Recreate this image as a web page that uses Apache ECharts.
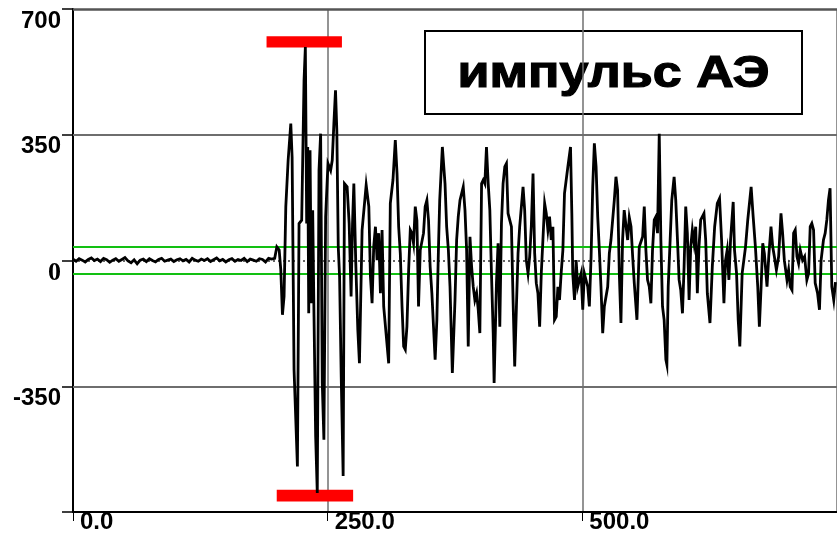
<!DOCTYPE html>
<html>
<head>
<meta charset="utf-8">
<script src="https://cdn.jsdelivr.net/npm/echarts@6/dist/echarts.min.js"></script>
<style>
html,body{margin:0;padding:0;background:#fff;}
#c{width:837px;height:536px;}
</style>
</head>
<body>
<div id="c"></div>
<script>
// ---- data ----
const yTickValues = [-700, -350, 0, 350, 700];
const xTickValues = [0, 250, 500];
const gridLevels = [350, -350];
const thresholdLevels = [38, -37];
const titleText = 'импульс АЭ';

// pre-trigger noise
const baselineX = [0,3,6,9,12,15,18,21,24,27,30,33,36,39,42,45,48,51,54,57,60,63,66,69,72,75,78,81,84,87,90,93,96,99,102,105,108,111,114,117,120,123,126,129,132,135,138,141,144,147,150,153,156,159,162,165,168,171,174,177,180,183,186,189,192,195,198];
const baselineY = [4,-2,5,1,-4,3,7,0,4,-3,6,2,-5,1,5,-2,3,8,-1,-6,2,-9,1,4,-3,5,0,-4,3,6,-2,1,4,-3,2,5,-1,3,-4,6,1,-2,4,0,5,-3,2,7,-1,3,-4,2,5,-2,3,0,6,-3,4,1,-2,5,3,-4,6,4,6];

// burst (largest oscillations)
const burstX = [200.1,202.4,204,205.6,207.2,208.9,211.2,213.8,215.1,217,220.3,221.9,224.5,226.8,228.1,229.4,230.4,231.4,232.7,234,235.3,236.6,238.2,239.8,241.5,243.1,244.7,246.3,248,250.3,252.9,254.5,256.1,257.7,259,260.4,261.7,263.3,265.2,266.5,269.1,271.1,273,274.4,275.7,277.6,279.6,281.2,283.8,287.8,290.4,292,293.6,295.2,296.9,298.5,300.1,301.8,303.4,305,307.3,309.9,311.5,314.1,316.4,318.1,319.7,321.3,323,324.6,326.2,327.8,329.5,331.1,332.7,334.3,336,337.6,339.2,340.9,344.1,345.7,347.4,349,350.6,352.3,353.9,355.5,357.2,358.8,360,362.6];
const burstY = [38,29,-26,-151,-100,150,279,381,288,-304,-573,103,112,501,594,103,316,-147,307,-119,140,-156,-489,-647,251,353,-341,-499,122,270,251,279,381,474,362,38,-45,-323,-600,214,205,103,-100,103,214,-8,-193,-286,85,210,150,-45,-119,38,94,1,76,-91,85,-128,-202,-286,159,224,335,242,94,20,-128,-239,-248,-184,-26,85,76,48,150,112,-128,29,76,150,168,112,-17,-91,-184,-276,-165,38,168,316];

// tail, part A
const tailAX = [365.2,366.8,368.5,370.1,372.4,375,376.6,378.2,379.9,383.1,384.8,386.4,388,389.7,391.3,392.9,394.5,396.2,397.8,399.4,401.1,402.7,404.3,405.9,407.6,409.2,410.8,412.5,413.4,415.7,417.3,419,420.6,422.2,423.9,425.5,427.1,430.4,432,433.6,435.3,436.9,438.5,441.8,443.4,445,446.7,448.3,449.9,451.6,453.2,454.8,456.4,458.1,459.7,461.3,463,464.6,466.2,467.8,469.5,471.1,472.7,474.4,476,477.6,479.2,480.9,482.5,485.8,488.4,489.7,490.6,492.3,493.9,495.5,498.8,500.4,502,505.3,506.9,508.6,510.2,511.8,513.5,515.1,516.7,518.3,520,521.6,523.2,524.9,526.5,528.1,531.4,533,534.6,536.3,537.9,539.5,541.1,542.8];
const tailAY = [214,94,29,-73,-313,-110,57,122,168,205,140,29,-239,66,-17,-73,-110,-91,-137,-202,214,224,214,316,214,140,-36,-202,-341,-63,48,-184,103,214,261,270,131,94,-110,-295,-128,20,94,205,140,1,-36,11,94,242,20,-63,-91,-184,-36,57,159,131,85,122,57,94,-165,-156,-73,-110,-36,29,187,261,316,131,-36,-110,1,-73,-36,-137,-36,-73,-128,11,205,326,261,122,29,-73,-202,-128,-128,-73,20,57,168,233,196,-36,-174,57,140,145];

// tail, part B
const tailBX = [544.5,546.1,547.8,549.4,551,553.6,555.9,559.2,560.8,562.4,564,565.7,567.3,568.9,570.6,572.2,573.8,575.5,577.1,578.7,580.3,582,583,584.3,586.2,587.8,590.1,591.7,593.4,595,596.6,598.3,599.9,601.5,603.1,604.8,606.4,608,609.7,611.3,612.9,614.5,616.2,619.4,621.1,622.7,625.3,627.6,629.9,632.5,634.7,636.7,639,640.6,642.2,643.9,645.5,648.1,649.4,651.4,653,654.6,656.9,660.2,662.4,665.7,667.7,669.9,672.2,673.8,675.5,677.1,678.7,681.3,683,685.2,686.9,688.5,690.5,692.7,695,696.6,698.3,700.9,702.5,704.1,705.8,707.4,709,710.7,712.3,713.9,716.2,718.2,720.4,722.1,723.7,725.3,727,728.6,730.9,732.8,734.4,736.7,738.4,740,741.6,743.2,744.9,746.8,748.5];
const tailBY = [57,120,94,11,-63,-165,38,66,150,29,-54,-73,-119,29,113,122,76,353,57,-128,-165,-276,-290,-73,57,168,233,168,57,-54,-82,-147,-17,150,76,-110,38,85,48,94,-91,38,113,131,57,-91,-174,-17,94,159,173,57,-119,1,29,-54,57,163,29,-36,-165,-239,-36,38,113,205,122,38,-73,-184,-73,48,20,-73,11,94,38,11,-26,11,131,76,1,-54,-26,-73,-82,76,85,11,-8,29,1,11,-54,-36,94,103,85,-63,-91,-137,1,57,76,113,168,201,-73,-110,-60];

// red markers of max / min amplitude
const maxBarX = [190, 264];
const maxBarY = [593, 624];
const minBarX = [200, 275];
const minBarY = [-671, -638];

// ---- build ----
function zip(xs, ys) {
  const n = Math.min(xs.length, ys.length);
  const out = [];
  for (let i = 0; i < n; i++) out.push([xs[i], ys[i]]);
  return out;
}
const signal = [].concat(
  zip(baselineX, baselineY),
  zip(burstX, burstY),
  zip(tailAX, tailAY),
  zip(tailBX, tailBY)
);

const labelFont = {
  color: '#000',
  fontFamily: '"Liberation Sans", Arial, sans-serif',
  fontWeight: 'bold',
  fontSize: 24
};

// measure title width to stretch it like the reference
const titleFont = 'bold 45px "Liberation Sans"';
const cv = document.createElement('canvas').getContext('2d');
cv.font = titleFont;
const titleW = cv.measureText(titleText).width || 280;
const titleScale = 312 / titleW;

const chart = echarts.init(document.getElementById('c'), null, {renderer: 'canvas'});

const option = {
  animation: false,
  backgroundColor: '#fff',
  grid: {left: 73, right: -3, top: 9, bottom: 24, containLabel: false},
  xAxis: {
    type: 'value',
    min: 0,
    max: 750,
    interval: 250,
    axisLine: {show: true, onZero: false, lineStyle: {color: '#000', width: 2}},
    axisTick: {show: true, length: 9, lineStyle: {color: '#000', width: 1}},
    axisLabel: Object.assign({}, labelFont, {
      show: true,
      showMaxLabel: false,
      align: 'left',
      padding: [0, 0, 0, 7],
      margin: -2,
      formatter: function (v) { return xTickValues.indexOf(v) >= 0 ? v.toFixed(1) : ''; }
    }),
    splitLine: {show: true, lineStyle: {color: '#707070', width: 1.5}}
  },
  yAxis: {
    type: 'value',
    min: -700,
    max: 700,
    interval: 350,
    axisLine: {show: true, onZero: false, lineStyle: {color: '#000', width: 2}},
    axisTick: {show: true, length: 11, lineStyle: {color: '#000', width: 1.5}},
    axisLabel: Object.assign({}, labelFont, {
      verticalAlign: 'top',
      margin: 12,
      formatter: function (v) {
        if (yTickValues.indexOf(v) < 0 || v === -700) return '';
        return v === 0 ? '{s|0}' : String(v);
      },
      rich: {s: {fontFamily: '"Liberation Serif", serif', fontWeight: 'bold', fontSize: 26, color: '#000'}}
    }),
    splitLine: {show: false}
  },
  series: [
    {
      type: 'line',
      data: [],
      silent: true,
      markLine: {
        silent: true,
        symbol: 'none',
        label: {show: false},
        animation: false,
        data: [
          {yAxis: 700, lineStyle: {color: '#555', width: 2.5, type: 'solid'}},
          {yAxis: gridLevels[0], lineStyle: {color: '#6e6e6e', width: 2, type: 'solid'}},
          {yAxis: gridLevels[1], lineStyle: {color: '#6e6e6e', width: 2, type: 'solid'}},
          {yAxis: 0, lineStyle: {color: '#333', width: 1.5, type: [2, 3]}},
          {yAxis: thresholdLevels[0], lineStyle: {color: '#12c012', width: 2, type: 'solid'}},
          {yAxis: thresholdLevels[1], lineStyle: {color: '#12c012', width: 2, type: 'solid'}}
        ]
      }
    },
    {
      type: 'line',
      data: signal,
      showSymbol: false,
      symbol: 'none',
      smooth: false,
      z: 5,
      lineStyle: {color: '#000', width: 2.8, join: 'miter'},
      markArea: {
        silent: true,
        itemStyle: {color: '#ff0000', opacity: 1},
        label: {show: false},
        data: [
          [{xAxis: maxBarX[0], yAxis: maxBarY[0]}, {xAxis: maxBarX[1], yAxis: maxBarY[1]}],
          [{xAxis: minBarX[0], yAxis: minBarY[0]}, {xAxis: minBarX[1], yAxis: minBarY[1]}]
        ]
      }
    }
  ],
  graphic: [
    {
      type: 'group',
      left: 424,
      top: 30,
      z: 100,
      children: [
        {type: 'rect', shape: {x: 0, y: 0, width: 377, height: 83},
         style: {fill: '#fff', stroke: '#000', lineWidth: 2}},
        {type: 'text', x: 188.5, y: 44, scaleX: titleScale,
         style: {text: titleText, font: titleFont, fill: '#000', stroke: '#000', lineWidth: 1.2,
                 align: 'center', verticalAlign: 'middle'}}
      ]
    }
  ]
};
chart.setOption(option);
</script>
</body>
</html>
